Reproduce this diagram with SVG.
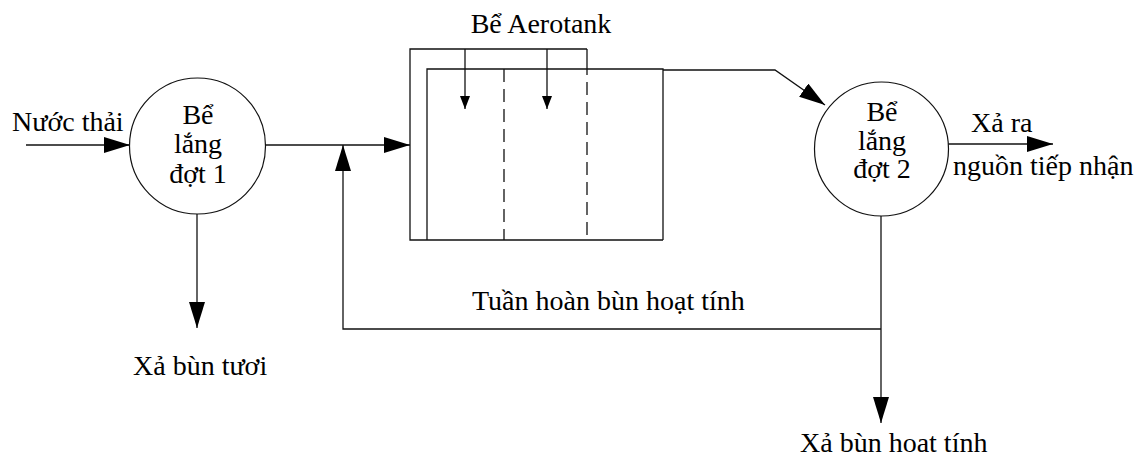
<svg xmlns="http://www.w3.org/2000/svg" width="1147" height="457" viewBox="0 0 1147 457">
<style>
text{font-family:"Liberation Serif","Tinos","Times New Roman","DejaVu Serif",serif;font-size:28px;fill:#000}
.c{text-anchor:middle}
.ln{fill:none;stroke:#111;stroke-width:1.3}
.dash{fill:none;stroke:#111;stroke-width:1.3;stroke-dasharray:13,7}
.node{fill:#fff;stroke:#111;stroke-width:1.2}
</style>
<defs>
<marker id="big" markerUnits="userSpaceOnUse" markerWidth="26" markerHeight="16" refX="26" refY="8" orient="auto"><path d="M0,0 L26,8 L0,16 z" fill="#000"/></marker>
<marker id="small" markerUnits="userSpaceOnUse" markerWidth="13" markerHeight="10" refX="13" refY="5" orient="auto"><path d="M0,0 L13,5 L0,10 z" fill="#000"/></marker>
</defs>
<rect width="1147" height="457" fill="#fff"/>
<g id="connectors">
<path class="ln" d="M26,145 L130,145" marker-end="url(#big)"/>
<path class="ln" d="M265,145 L410,145" marker-end="url(#big)"/>
<path class="ln" d="M881,329 L343,329 L343,145" marker-end="url(#big)"/>
<path class="ln" d="M663,70 L775,70 L825,105" marker-end="url(#big)"/>
<path class="ln" d="M948,144 L1053,144" marker-end="url(#big)"/>
<path class="ln" d="M197,214 L197,328" marker-end="url(#big)"/>
<path class="ln" d="M881,215 L881,423" marker-end="url(#big)"/>
</g>
<g id="aerotank">
<path class="ln" d="M587,49 L410,49 L410,240 L663,240"/>
<path class="ln" d="M427,240 L427,69 L663,69 L663,240"/>
<path class="dash" d="M504,69 L504,240"/>
<path class="ln" d="M587,49 L587,75"/>
<path class="dash" d="M587,82 L587,240"/>
<path class="ln" d="M465,49 L465,109" marker-end="url(#small)"/>
<path class="ln" d="M547,49 L547,109" marker-end="url(#small)"/>
<text class="c" x="541" y="33">Bể Aerotank</text>
</g>
<g id="lang1">
<circle class="node" cx="197.5" cy="146" r="68"/>
<text class="c" x="198" y="124">Bể</text>
<text class="c" x="198" y="153">lắng</text>
<text class="c" x="198" y="183">đợt 1</text>
</g>
<g id="lang2">
<circle class="node" cx="881.5" cy="149" r="67"/>
<text class="c" x="882" y="121">Bể</text>
<text class="c" x="882" y="150">lắng</text>
<text class="c" x="882" y="178">đợt 2</text>
</g>
<g id="labels">
<text x="12" y="131">Nước thải</text>
<text x="971" y="132">Xả ra</text>
<text x="953" y="175">nguồn tiếp nhận</text>
<text x="472" y="310">Tuần hoàn bùn hoạt tính</text>
<text x="133" y="375">Xả bùn tươi</text>
<text x="800" y="452">Xả bùn hoat tính</text>
</g>
</svg>
